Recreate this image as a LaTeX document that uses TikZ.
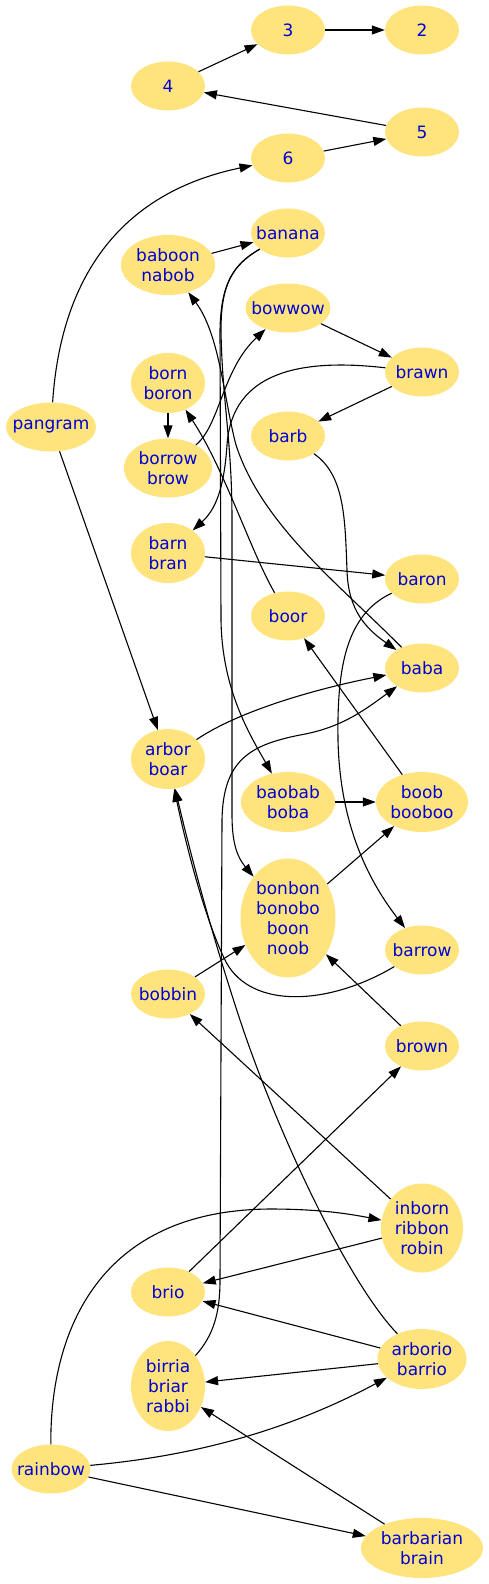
\documentclass[tikz,border=0pt]{standalone}
\usepackage{fontspec}
\setmainfont{DejaVu Sans}
\usetikzlibrary{shapes.geometric,arrows.meta}
\definecolor{nodefill}{RGB}{255,228,125}
\definecolor{txt}{RGB}{0,0,210}
\begin{document}
\begin{tikzpicture}[x=1pt,y=-1pt,
  nd/.style={ellipse, fill=nodefill, draw=none, inner sep=0pt,
    minimum width=74pt, minimum height=49pt,
    label={[lbl]center:{#1}}},
  lbl/.style={text=txt, font=\fontsize{17}{20}\selectfont, align=center, inner sep=0pt},
  e/.style={draw=black, line width=1.1pt, -{Triangle[length=13pt,width=9pt]}},
]
\useasboundingbox (0,0) rectangle (489,1584);
% nodes
\node[nd=3] (n3) at (288,30) {};
\node[nd=2] (n2) at (422,30) {};
\node[nd=4] (n4) at (168,86) {};
\node[nd=5] (n5) at (422,132) {};
\node[nd=6] (n6) at (288,158) {};
\node[nd=banana] (banana) at (288,233) {};
\node[nd={baboon\\nabob}, minimum width=94pt, minimum height=60pt] (baboon) at (168,265) {};
\node[nd=bowwow, minimum width=85pt] (bowwow) at (288,308) {};
\node[nd=brawn] (brawn) at (422,372) {};
\node[nd={born\\boron}, minimum height=60pt] (born) at (168,383) {};
\node[nd=pangram, minimum width=90pt] (pangram) at (51,427) {};
\node[nd=barb] (barb) at (288,436) {};
\node[nd={borrow\\brow}, minimum width=88pt, minimum height=59pt] (borrow) at (168,468) {};
\node[nd={barn\\bran}, minimum height=60pt] (barn) at (168,553) {};
\node[nd=baron] (baron) at (422,579) {};
\node[nd=boor] (boor) at (288,616) {};
\node[nd=baba] (baba) at (422,668) {};
\node[nd={arbor\\boar}, minimum height=60pt] (arbor) at (168,759) {};
\node[nd={baobab\\boba}, minimum width=94pt, minimum height=60pt] (baobab) at (288,802) {};
\node[nd={boob\\booboo}, minimum width=92pt, minimum height=60pt] (boob) at (422,802) {};
\node[nd={bonbon\\bonobo\\boon\\noob}, minimum width=95pt, minimum height=119pt] (bonbon) at (288,918) {};
\node[nd=barrow] (barrow) at (422,950) {};
\node[nd=bobbin] (bobbin) at (168,994) {};
\node[nd=brown] (brown) at (422,1046) {};
\node[nd={inborn\\ribbon\\robin}, minimum width=82pt, minimum height=89pt] (inborn) at (422,1228) {};
\node[nd=brio] (brio) at (168,1292) {};
\node[nd={arborio\\barrio}, minimum width=89pt, minimum height=60pt] (arborio) at (422,1359) {};
\node[nd={birria\\briar\\rabbi}, minimum height=90pt] (birria) at (168,1386) {};
\node[nd=rainbow, minimum width=79pt] (rainbow) at (51,1469) {};
\node[nd={barbarian\\brain}, minimum width=122pt, minimum height=60pt] (barbarian) at (422,1548) {};
% edges
\draw[e] (n4) -- (n3);
\draw[e] (n3) -- (n2);
\draw[e] (n5) -- (n4);
\draw[e] (n6) -- (n5);
\draw[e] (pangram) .. controls (60,290) and (110,195) .. (n6);
\draw[e] (baboon) -- (banana);
\draw[e] (banana) .. controls (232,265) and (221,285) .. (220,330) -- (221,620) .. controls (222,690) and (250,735) .. (baobab);
\draw[e] (banana) .. controls (232,265) and (221,285) .. (221,330) .. controls (222,400) and (232,440) .. (232,520) -- (232,815) .. controls (232,845) and (238,858) .. (bonbon);
\draw[e] (bowwow) -- (brawn);
\draw[e] (brawn) -- (barb);
\draw[e] (brawn) .. controls (300,358) and (232,372) .. (227,445) .. controls (224,490) and (215,510) .. (barn);
\draw[e] (borrow) .. controls (220,425) and (222,370) .. (bowwow);
\draw[e] (born) -- (borrow);
\draw[e] (boor) .. controls (250,550) and (225,470) .. (born);
\draw[e] (barn) -- (baron);
\draw[e] (barb) .. controls (345,475) and (345,520) .. (347,570) .. controls (348,612) and (368,630) .. (baba);
\draw[e] (baron) .. controls (345,615) and (337,670) .. (338,740) .. controls (340,830) and (372,885) .. (barrow);
\draw[e] (baba) .. controls (340,585) and (262,525) .. (236,445) .. controls (224,400) and (220,335) .. (baboon);
\draw[e] (pangram) -- (arbor);
\draw[e] (arbor) .. controls (240,710) and (320,688) .. (baba);
\draw[e] (birria) .. controls (214,1335) and (220,1312) .. (220,1280) -- (222,820) .. controls (223,760) and (250,745) .. (300,735) .. controls (340,728) and (362,712) .. (baba);
\draw[e] (boob) -- (boor);
\draw[e] (baobab) -- (boob);
\draw[e] (bonbon) -- (boob);
\draw[e] (bobbin) -- (bonbon);
\draw[e] (brown) -- (bonbon);
\draw[e] (barrow) .. controls (330,1005) and (252,1010) .. (226,962) .. controls (205,920) and (186,845) .. (arbor);
\draw[e] (arborio) .. controls (350,1285) and (280,1140) .. (240,1020) .. controls (212,935) and (192,860) .. (arbor);
\draw[e] (inborn) -- (bobbin);
\draw[e] (inborn) -- (brio);
\draw[e] (brio) -- (brown);
\draw[e] (rainbow) .. controls (50,1330) and (100,1210) .. (270,1209) .. controls (320,1209) and (350,1214) .. (inborn);
\draw[e] (arborio) -- (brio);
\draw[e] (arborio) -- (birria);
\draw[e] (rainbow) .. controls (170,1458) and (270,1440) .. (arborio);
\draw[e] (rainbow) -- (barbarian);
\draw[e] (barbarian) -- (birria);
\end{tikzpicture}
\end{document}
